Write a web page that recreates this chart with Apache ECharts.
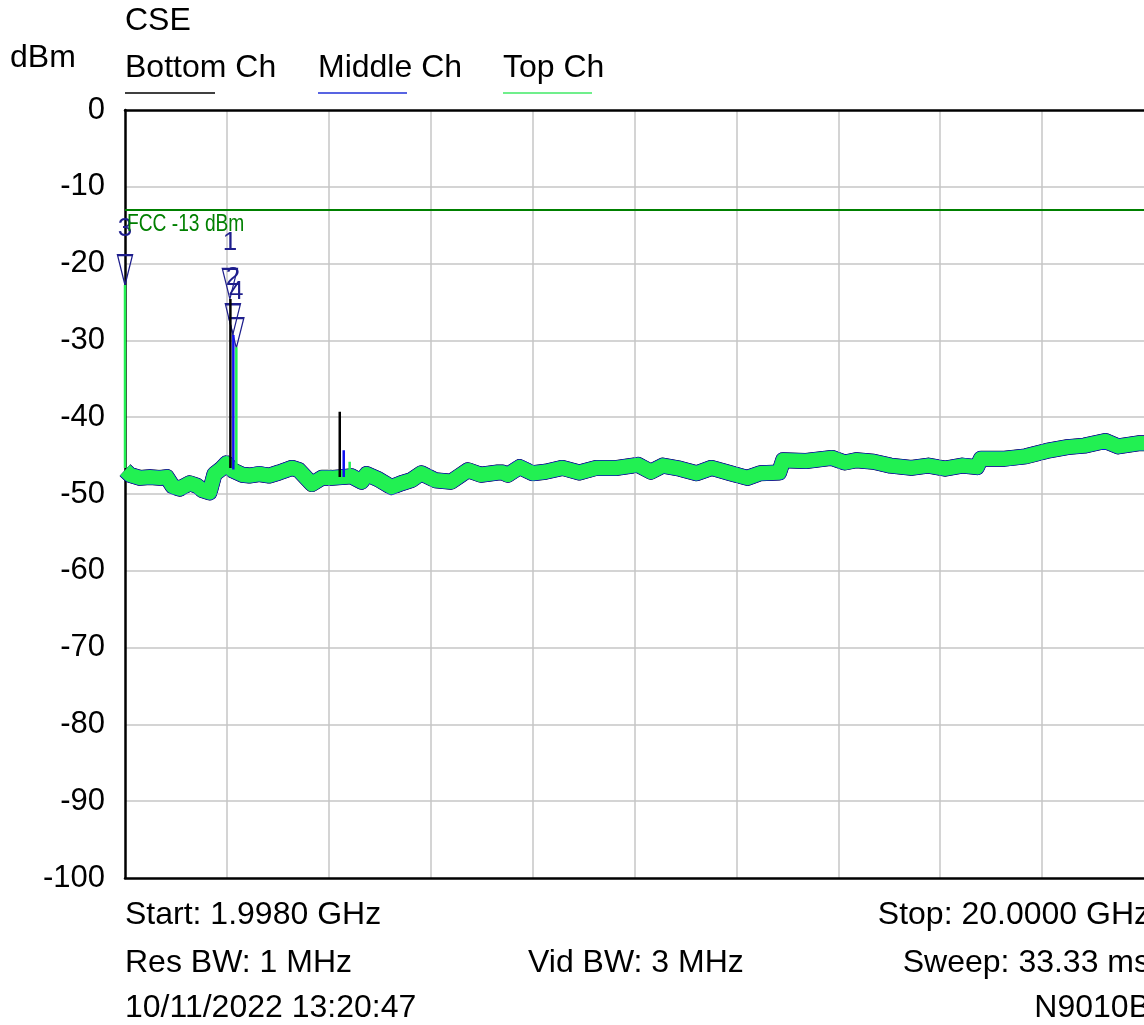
<!DOCTYPE html>
<html><head><meta charset="utf-8">
<script src="https://cdn.jsdelivr.net/npm/echarts@6/dist/echarts.min.js"></script>
<style>html,body{margin:0;padding:0;background:#fff}#c{width:1144px;height:1025px}</style>
</head><body><div id="c"></div><script>
// ---- data (GHz / dBm) ----
const floorFreqGHz = [1.998,2.086,2.261,2.437,2.613,2.736,2.841,2.964,3.140,3.263,3.368,3.491,3.579,3.702,3.789,3.895,4.070,4.193,4.369,4.545,4.720,4.949,5.071,5.300,5.475,5.651,5.827,6.002,6.178,6.266,6.477,6.705,6.880,7.056,7.232,7.478,7.759,7.917,8.057,8.286,8.584,8.672,8.760,8.970,9.199,9.427,9.726,10.024,10.323,10.692,11.060,11.289,11.499,11.798,12.097,12.360,12.694,12.992,13.221,13.554,13.625,14.029,14.485,14.713,14.924,15.223,15.521,15.890,16.189,16.487,16.786,17.049,17.120,17.541,17.910,18.279,18.648,18.946,19.315,19.543,19.895,20.000];
const floorDbm = [-46.9,-47.5,-47.9,-47.8,-47.9,-47.8,-49.0,-49.3,-48.6,-48.9,-49.5,-49.8,-47.4,-46.7,-46.0,-46.9,-47.5,-47.6,-47.4,-47.6,-47.2,-46.6,-46.9,-48.7,-47.9,-47.9,-47.8,-47.7,-48.4,-47.4,-48.1,-49.1,-48.6,-48.2,-47.3,-48.2,-48.4,-47.6,-46.9,-47.5,-47.2,-47.2,-47.5,-46.5,-47.3,-47.1,-46.6,-47.2,-46.6,-46.6,-46.2,-47.1,-46.3,-46.7,-47.3,-46.6,-47.3,-47.9,-47.3,-47.2,-45.6,-45.7,-45.3,-45.9,-45.6,-45.8,-46.3,-46.6,-46.3,-46.7,-46.3,-46.5,-45.4,-45.4,-45.1,-44.4,-43.9,-43.7,-43.1,-43.8,-43.4,-43.4];

const bottomSpikeFreq = [3.860, 5.792];
const bottomSpikeBase = [-46.6, -47.8];
const bottomSpikePeak = [-24.6, -39.3];
const middleSpikeFreq = [3.912, 5.862];
const middleSpikeBase = [-46.8, -47.8];
const middleSpikePeak = [-29.3, -44.3];
const topSpikeFreq = [1.998, 3.965, 5.967];
const topSpikeBase = [-46.6, -47.0, -47.7];
const topSpikePeak = [-22.8, -30.9, -45.8];

const markerName = ['1', '2', '3', '4'];
const markerFreq = [3.851, 3.904, 1.998, 3.965];
const markerDbm = [-24.6, -29.2, -22.8, -31.0];

const fccLimit = -13;
const fccLabel = 'FCC -13 dBm';
const yTicks = [0, -10, -20, -30, -40, -50, -60, -70, -80, -90, -100];
const startGHz = 1.998, stopGHz = 20.0;

// ---- build ----
const FONT = "'Liberation Sans', Arial, sans-serif";
const floorData = floorFreqGHz.map((f, i) => [f, floorDbm[i]]);
function spikes(fr, base, peak) {
  const out = [];
  fr.forEach((f, i) => { out.push([f, base[i]], [f, peak[i]], [f, null]); });
  return out;
}
const markerData = markerName.map((n, i) => ({ name: n, coord: [markerFreq[i], markerDbm[i]] }));

const chart = echarts.init(document.getElementById('c'), null, { renderer: 'canvas' });
let gid = 0;
const txt = (x, y, s, align, color) => ({
  type: 'text', id: 't' + (gid++), x: x, y: y,
  style: { text: s, font: '32px ' + FONT, fill: color || '#000', textAlign: align || 'left', textVerticalAlign: 'middle' }
});
const frame = { show: true, onZero: false, lineStyle: { color: '#000', width: 2.5 } };
const split = { show: true, showMinLine: false, showMaxLine: false, lineStyle: { color: '#c6c6c6', width: 1.5 } };
chart.setOption({
  animation: false,
  backgroundColor: '#fff',
  grid: { left: 125, top: 110, width: 1025, height: 768, show: false },
  xAxis: [{
    type: 'value', min: startGHz, max: stopGHz, interval: 1.8002, position: 'bottom',
    axisLine: frame, axisTick: { show: false }, axisLabel: { show: false }, splitLine: split, z: 3
  }, {
    type: 'value', min: startGHz, max: stopGHz, interval: 1.8002, position: 'top',
    axisLine: frame, axisTick: { show: false }, axisLabel: { show: false }, splitLine: { show: false }, z: 3
  }],
  yAxis: {
    type: 'value', min: -100, max: 0, interval: 10,
    axisLine: frame, axisTick: { show: false }, z: 3,
    axisLabel: { color: '#000', fontSize: 31, fontFamily: FONT, margin: 20,
      formatter: v => yTicks.indexOf(v) >= 0 ? String(v) : '' },
    splitLine: split
  },
  graphic: [
    txt(125, 21, 'CSE'),
    txt(10, 58, 'dBm'),
    txt(125, 68, 'Bottom Ch'),
    txt(318, 68, 'Middle Ch'),
    txt(503, 68, 'Top Ch'),
    { type: 'line', id: 'u1', shape: { x1: 125, y1: 93, x2: 215, y2: 93 }, style: { stroke: '#000', lineWidth: 1.5 } },
    { type: 'line', id: 'u2', shape: { x1: 318, y1: 93, x2: 407, y2: 93 }, style: { stroke: '#2030d8', lineWidth: 1.5 } },
    { type: 'line', id: 'u3', shape: { x1: 503, y1: 93, x2: 592, y2: 93 }, style: { stroke: '#40ea66', lineWidth: 1.5 } },
    txt(125, 915, 'Start: 1.9980 GHz'),
    txt(1150, 915, 'Stop: 20.0000 GHz', 'right'),
    txt(125, 963, 'Res BW: 1 MHz'),
    txt(528, 963, 'Vid BW: 3 MHz'),
    txt(1150, 963, 'Sweep: 33.33 ms', 'right'),
    txt(125, 1008, '10/11/2022 13:20:47'),
    txt(1150, 1008, 'N9010B', 'right')
  ],
  series: [
    { name: 'Bottom Ch', type: 'line', data: floorData, showSymbol: false, symbol: 'none', xAxisIndex: 0,
      lineStyle: { color: '#000', width: 16, join: 'round', cap: 'butt' }, z: 2,
      markLine: { silent: true, symbol: ['none', 'none'], animation: false,
        data: [{ yAxis: fccLimit }],
        lineStyle: { color: '#008000', width: 2, type: 'solid' },
        label: { show: false } } },
    { name: 'Middle Ch', type: 'line', data: floorData, showSymbol: false, symbol: 'none',
      lineStyle: { color: '#1010f0', width: 15.5, join: 'round', cap: 'butt' }, z: 3 },
    { name: 'Top Ch', type: 'line', data: floorData, showSymbol: false, symbol: 'none',
      lineStyle: { color: '#22f052', width: 14.5, join: 'round', cap: 'butt' }, z: 4 },
    { name: 'Bottom spikes', type: 'line', data: spikes(bottomSpikeFreq, bottomSpikeBase, bottomSpikePeak),
      showSymbol: false, symbol: 'none', connectNulls: false, lineStyle: { color: '#000', width: 2.5 }, z: 5 },
    { name: 'Middle spikes', type: 'line', data: spikes(middleSpikeFreq, middleSpikeBase, middleSpikePeak),
      showSymbol: false, symbol: 'none', connectNulls: false, lineStyle: { color: '#1010f0', width: 2.5 }, z: 5 },
    { name: 'Top spikes', type: 'line', data: spikes(topSpikeFreq, topSpikeBase, topSpikePeak),
      showSymbol: false, symbol: 'none', connectNulls: false, lineStyle: { color: '#22f052', width: 2.5 }, z: 6,
      markPoint: { silent: true, animation: false,
        symbol: 'path://M0,0L10,0L5,20Z', symbolSize: [15, 30], symbolOffset: [0, -15], symbolKeepAspect: false,
        itemStyle: { color: 'rgba(0,0,0,0)', borderColor: '#1e1e8c', borderWidth: 1.6 },
        label: { show: true, position: 'top', distance: 12, formatter: '{b}', color: '#1e1e8c', fontSize: 26, fontFamily: FONT },
        data: markerData } }
  ]
});
// FCC limit label, placed from the axis scale (condensed look via scaleX)
const p = chart.convertToPixel({ xAxisIndex: 0, yAxisIndex: 0 }, [startGHz, fccLimit]);
chart.setOption({ graphic: [{ type: 'text', id: 'fcc', x: p[0] + 2, y: p[1] + 15, scaleX: 0.8, z: 10,
  style: { text: fccLabel, font: '24px ' + FONT, fill: '#008000', textAlign: 'left', textVerticalAlign: 'middle' } }] });
</script></body></html>
